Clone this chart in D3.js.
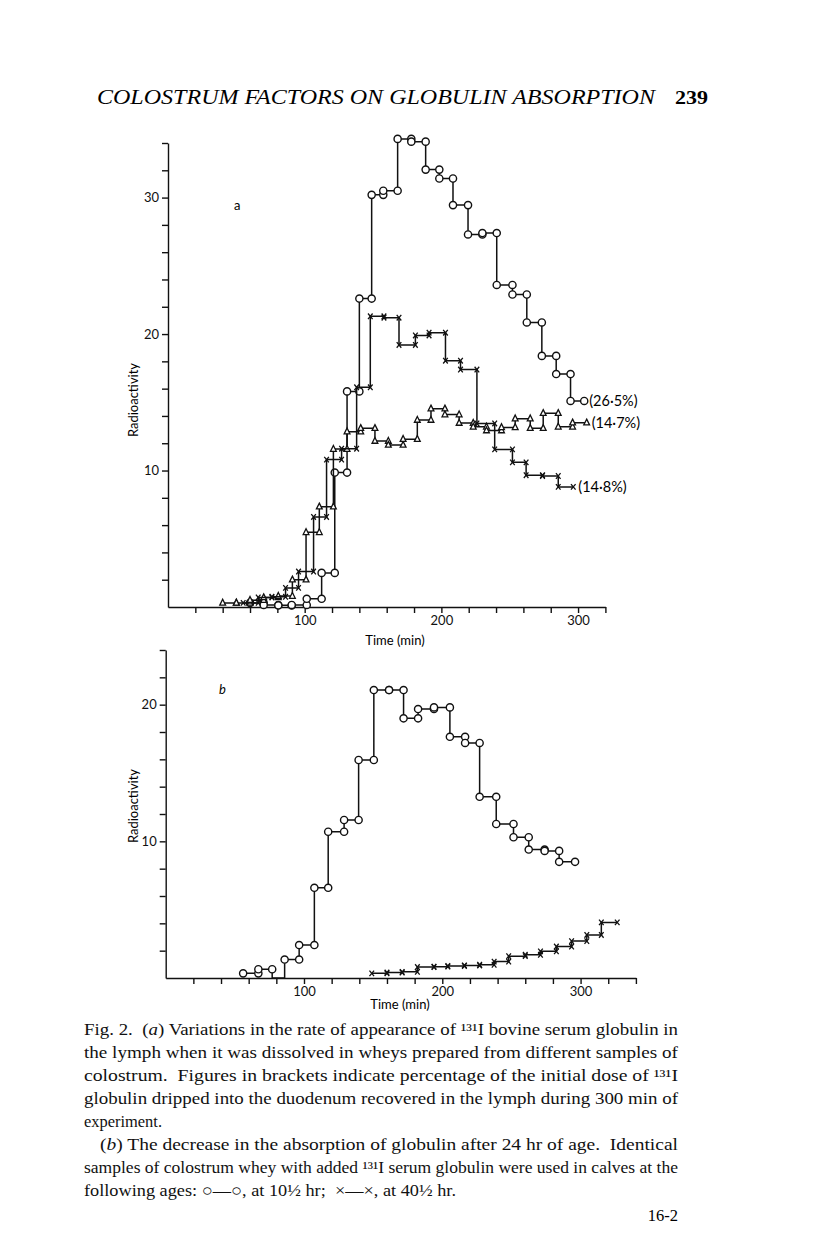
<!DOCTYPE html>
<html>
<head>
<meta charset="utf-8">
<script src="https://cdn.jsdelivr.net/npm/d3@7"></script>
<style>
  body { margin: 0; background: #fff; }
  svg { display: block; }
  .tick text { font-family: Lato, "DejaVu Sans", sans-serif; font-size: 13px; fill: #111; }
  .domain, .tick line { stroke: #111; stroke-width: 1.4; }
</style>
</head>
<body>
<div id="chart"></div>
<script>
// panel a: interval boundaries (min) and activity per interval
const aCircleT = [60, 70, 80.7, 90.5, 101.5, 112.4, 122, 131, 140, 149, 157.5, 168, 178, 188.5, 198.5, 208.5, 219.5, 230, 240.5, 252, 262.5, 273.5, 284, 294.5, 304.5];
const aCircleV = [0.3, 0.15, 0.12, 0.15, 0.6, 2.5, 9.85, 15.8, 22.6, 30.2, 30.5, 34.3, 34.1, 32.05, 31.4, 29.45, 27.3, 27.4, 23.6, 22.9, 20.85, 18.4, 17.07, 15.1];

const aCrossT = [55, 66, 76, 86, 95.5, 106.5, 116, 127, 138, 148, 158, 169, 181, 191, 203, 214, 226, 239, 252, 262, 274, 285.5, 296.5];
const aCrossV = [0.3, 0.7, 0.75, 1.4, 2.6, 6.6, 10.8, 11.6, 16.1, 21.3, 21.2, 19.2, 19.9, 20.1, 18.05, 17.4, 13.45, 11.55, 10.6, 9.66, 9.6, 8.8];

const aTriT = [40, 50, 60, 70, 80.7, 91, 101, 110.7, 121, 131, 141, 151.4, 161.2, 172, 182.4, 192.4, 202.6, 213, 223.3, 233, 244, 254, 265, 274.5, 285.5, 296, 306.3];
const aTriV = [0.3, 0.3, 0.5, 0.7, 0.8, 2.0, 5.47, 7.35, 11.57, 12.85, 13.1, 12.16, 11.87, 12.3, 13.7, 14.53, 14.1, 13.48, 13.2, 12.93, 13.16, 13.8, 13.1, 14.2, 13.2, 13.5];

const aLabels = ['(26·5%)', '(14·7%)', '(14·8%)'];

// panel b
const bCircleT = [56, 67, 77, 86, 96.5, 107.5, 117.5, 129, 139.5, 150.5, 161.5, 172, 182.5, 194, 205.5, 216.5, 227, 239, 251.5, 262.5, 274, 284.5, 296];
const bCircleV = [0.34, 0.64, 0, 1.35, 2.41, 6.6, 10.7, 11.56, 15.95, 21.07, 21.07, 19.0, 19.68, 19.8, 17.65, 17.2, 13.26, 11.27, 10.3, 9.4, 9.3, 8.5];

const bCrossT = [149, 160, 171, 182, 194, 204, 216, 227, 237.5, 248, 260, 271, 282.5, 293.5, 304.5, 315, 326.5];
const bCrossV = [0.34, 0.4, 0.45, 0.8, 0.83, 0.88, 0.92, 0.97, 1.2, 1.6, 1.7, 1.95, 2.3, 2.7, 3.15, 4.07];

const xLabelTicks = [100, 200, 300];
const aYLabelTicks = [10, 20, 30];
const bYLabelTicks = [10, 20];

const svg = d3.select('#chart').append('svg')
  .attr('width', 816)
  .attr('height', 1239);

// page header
svg.append('text')
  .attr('x', 97).attr('y', 104)
  .attr('textLength', 558).attr('lengthAdjust', 'spacingAndGlyphs')
  .style('font-family', '"Liberation Serif", serif')
  .style('font-style', 'italic')
  .style('font-size', '20px')
  .text('COLOSTRUM FACTORS ON GLOBULIN ABSORPTION');
svg.append('text')
  .attr('x', 675).attr('y', 104)
  .attr('textLength', 33).attr('lengthAdjust', 'spacingAndGlyphs')
  .style('font-family', '"Liberation Serif", serif')
  .style('font-weight', 'bold')
  .style('font-size', '19px')
  .text('239');

function intervals(T, V) {
  return V.map((v, i) => ({ t0: T[i], t1: T[i + 1], v: v }));
}

function drawPanel(cfg) {
  const x = d3.scaleLinear().domain([0, cfg.xMax]).range(cfg.xRange);
  const y = d3.scaleLinear().domain([0, cfg.yMax]).range(cfg.yRange);
  const g = svg.append('g');

  g.append('g')
    .attr('transform', `translate(0,${cfg.yRange[0]})`)
    .call(d3.axisBottom(x)
      .tickValues(d3.range(20, cfg.xMax + 1, 20))
      .tickSize(6).tickSizeOuter(0).tickPadding(3)
      .tickFormat(d => xLabelTicks.includes(d) ? d : ''));

  g.append('g')
    .attr('transform', `translate(${cfg.xRange[0]},0)`)
    .call(d3.axisLeft(y)
      .tickValues(d3.range(2, cfg.yMax + 1, 2))
      .tickSize(6).tickSizeOuter(0).tickPadding(3)
      .tickFormat(d => cfg.yLabels.includes(d) ? d : ''));

  g.append('text')
    .attr('x', cfg.timeLabel[0]).attr('y', cfg.timeLabel[1])
    .attr('text-anchor', 'middle')
    .style('font-family', 'Lato, "DejaVu Sans", sans-serif')
    .style('font-size', '13px')
    .text('Time (min)');

  g.append('text')
    .attr('transform', `translate(${cfg.yLabel[0]},${cfg.yLabel[1]}) rotate(-90)`)
    .attr('text-anchor', 'middle')
    .attr('dy', '0.35em')
    .style('font-family', 'Lato, "DejaVu Sans", sans-serif')
    .style('font-size', '13px')
    .text('Radioactivity');

  g.append('text')
    .attr('x', cfg.letter[0]).attr('y', cfg.letter[1])
    .style('font-family', 'Lato, "DejaVu Sans", sans-serif')
    .style('font-size', '13px')
    .style('font-style', cfg.letterItalic ? 'italic' : 'normal')
    .text(cfg.letter[2]);

  const line = d3.line().x(d => x(d[0])).y(d => y(d[1]));

  cfg.series.forEach(s => {
    const iv = intervals(s.T, s.V);
    const pts = [];
    iv.forEach(d => { pts.push([d.t0, d.v]); pts.push([d.t1, d.v]); });
    g.append('path')
      .attr('d', line(pts))
      .attr('fill', 'none')
      .attr('stroke', '#111')
      .attr('stroke-width', 1.5);

    const marks = [];
    iv.forEach(d => { if (d.v > 0) { marks.push([d.t0, d.v]); marks.push([d.t1, d.v]); } });
    const mg = g.append('g');
    if (s.shape === 'circle') {
      mg.selectAll('circle').data(marks).enter().append('circle')
        .attr('cx', d => x(d[0])).attr('cy', d => y(d[1]))
        .attr('r', 3.6)
        .attr('fill', '#fff').attr('stroke', '#111').attr('stroke-width', 1.4);
    } else if (s.shape === 'triangle') {
      mg.selectAll('path').data(marks).enter().append('path')
        .attr('d', d => {
          const cx = x(d[0]), cy = y(d[1]);
          return `M${cx},${cy - 3.6}L${cx + 2.9},${cy + 2.2}L${cx - 2.9},${cy + 2.2}Z`;
        })
        .attr('fill', '#fff').attr('stroke', '#111').attr('stroke-width', 1.3);
    } else {
      mg.selectAll('path').data(marks).enter().append('path')
        .attr('d', d => {
          const cx = x(d[0]), cy = y(d[1]);
          return `M${cx - 2.3},${cy - 2.8}L${cx + 2.3},${cy + 2.8}M${cx + 2.3},${cy - 2.8}L${cx - 2.3},${cy + 2.8}`;
        })
        .attr('fill', 'none').attr('stroke', '#111').attr('stroke-width', 1.3);
    }

    if (s.label) {
      const last = iv[iv.length - 1];
      g.append('text')
        .attr('x', x(last.t1) + 5).attr('y', y(last.v))
        .attr('dy', '0.35em')
        .style('font-family', 'Lato, "DejaVu Sans", sans-serif')
        .style('font-size', '14.5px')
        .text(s.label);
    }
  });
}

drawPanel({
  xMax: 320, xRange: [168, 605.4],
  yMax: 34, yRange: [607, 143],
  yLabels: aYLabelTicks,
  timeLabel: [395, 645], yLabel: [133, 400],
  letter: [234, 210, 'a'], letterItalic: false,
  series: [
    { T: aCircleT, V: aCircleV, shape: 'circle', label: aLabels[0] },
    { T: aTriT, V: aTriV, shape: 'triangle', label: aLabels[1] },
    { T: aCrossT, V: aCrossV, shape: 'cross', label: aLabels[2] }
  ]
});

drawPanel({
  xMax: 340, xRange: [165.7, 635.9],
  yMax: 24, yRange: [978, 650],
  yLabels: bYLabelTicks,
  timeLabel: [400, 1009], yLabel: [133, 806],
  letter: [219, 694, 'b'], letterItalic: true,
  series: [
    { T: bCircleT, V: bCircleV, shape: 'circle' },
    { T: bCrossT, V: bCrossV, shape: 'cross' }
  ]
});

// figure caption
const captionLines = [
  { x: 84, y: 1035, w: 594, parts: [['Fig. 2.  ('], ['a', 'italic'], [') Variations in the rate of appearance of ¹³¹I bovine serum globulin in']] },
  { x: 84, y: 1058, w: 594, parts: [['the lymph when it was dissolved in wheys prepared from different samples of']] },
  { x: 84, y: 1081, w: 594, parts: [['colostrum.  Figures in brackets indicate percentage of the initial dose of ¹³¹I']] },
  { x: 84, y: 1104, w: 594, parts: [['globulin dripped into the duodenum recovered in the lymph during 300 min of']] },
  { x: 84, y: 1127, w: 78, parts: [['experiment.']] },
  { x: 100, y: 1150, w: 578, parts: [['('], ['b', 'italic'], [') The decrease in the absorption of globulin after 24 hr of age.  Identical']] },
  { x: 84, y: 1173, w: 594, parts: [['samples of colostrum whey with added ¹³¹I serum globulin were used in calves at the']] },
  { x: 84, y: 1196, w: 372, parts: [['following ages: ○—○, at 10½ hr;  ×—×, at 40½ hr.']] }
];

captionLines.forEach(l => {
  const t = svg.append('text')
    .attr('x', l.x).attr('y', l.y)
    .style('font-family', '"Liberation Serif", serif')
    .style('font-size', '16.5px')
    .style('fill', '#111')
    .attr('xml:space', 'preserve');
  if (l.w) t.attr('textLength', l.w).attr('lengthAdjust', 'spacingAndGlyphs');
  l.parts.forEach(p => {
    t.append('tspan').style('font-style', p[1] || 'normal').text(p[0]);
  });
});

svg.append('text')
  .attr('x', 678).attr('y', 1221)
  .attr('text-anchor', 'end')
  .style('font-family', '"Liberation Serif", serif')
  .style('font-size', '16.5px')
  .text('16-2');
</script>
</body>
</html>
